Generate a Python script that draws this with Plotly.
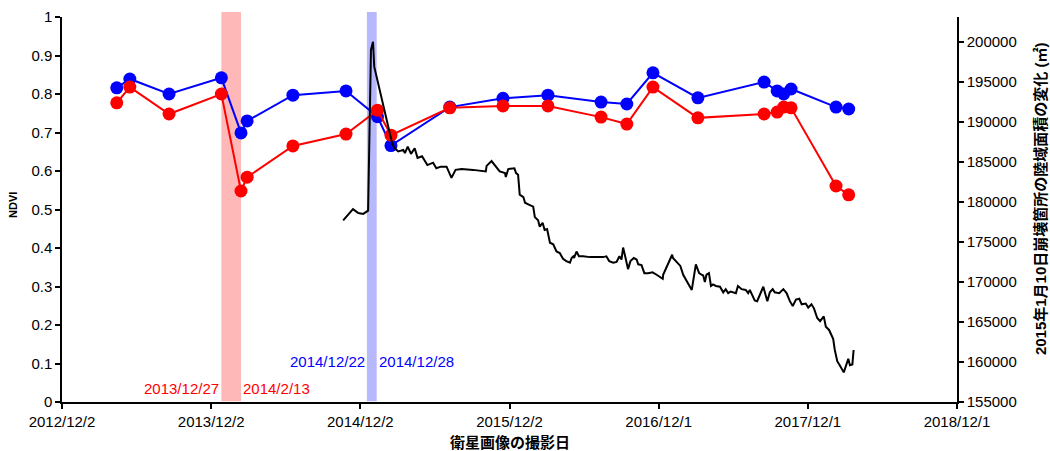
import plotly.graph_objects as go
from plotly.subplots import make_subplots

# ---------------- data ----------------
ndvi_dates = ["2013-04-15", "2013-05-17", "2013-08-21", "2013-12-27", "2014-02-13", "2014-02-28",
              "2014-06-20", "2014-10-28", "2015-01-13", "2015-02-15", "2015-07-09", "2015-11-16",
              "2016-03-05", "2016-07-13", "2016-09-14", "2016-11-17", "2017-03-07", "2017-08-16",
              "2017-09-17", "2017-10-03", "2017-10-21", "2018-02-08", "2018-03-11"]
ndvi_blue = [0.816, 0.839, 0.800, 0.842, 0.699, 0.730, 0.797, 0.808, 0.741, 0.666, 0.766, 0.789,
             0.797, 0.779, 0.774, 0.855, 0.790, 0.831, 0.808, 0.800, 0.813, 0.766, 0.761]
ndvi_red = [0.777, 0.818, 0.748, 0.800, 0.548, 0.584, 0.665, 0.696, 0.758, 0.693, 0.764, 0.769,
            0.769, 0.740, 0.722, 0.818, 0.738, 0.748, 0.753, 0.766, 0.764, 0.561, 0.538]

area_dates = [
    "2014-10-21", "2014-11-14", "2014-11-27", "2014-12-09", "2014-12-21", "2014-12-28", "2015-01-02", "2015-01-05",
    "2015-02-18", "2015-02-24", "2015-03-05", "2015-03-17", "2015-03-21", "2015-03-28", "2015-04-05", "2015-04-14",
    "2015-04-21", "2015-05-02", "2015-05-15", "2015-05-29", "2015-06-06", "2015-06-17", "2015-07-01", "2015-07-13",
    "2015-07-23", "2015-08-07", "2015-09-04", "2015-10-05", "2015-10-07", "2015-10-19", "2015-11-08", "2015-11-21",
    "2015-11-23", "2015-11-29", "2015-12-14", "2015-12-18", "2015-12-23", "2015-12-27",
    "2016-01-05", "2016-01-09", "2016-01-17", "2016-01-29", "2016-02-02", "2016-02-10", "2016-02-14", "2016-02-21",
    "2016-02-26", "2016-03-03", "2016-03-10", "2016-03-18", "2016-03-26", "2016-04-03", "2016-04-11", "2016-04-19",
    "2016-04-28", "2016-05-02", "2016-05-06", "2016-05-08", "2016-05-14", "2016-05-20", "2016-05-30", "2016-06-16",
    "2016-07-18", "2016-07-26", "2016-08-02", "2016-08-12", "2016-08-20", "2016-08-27", "2016-09-01", "2016-09-05",
    "2016-09-11", "2016-09-17", "2016-09-23", "2016-10-01", "2016-10-08", "2016-10-12", "2016-10-20", "2016-10-27",
    "2016-11-05", "2016-11-16", "2016-11-26", "2016-12-11", "2016-12-12",
    "2017-01-03", "2017-01-05", "2017-01-23", "2017-01-30", "2017-02-20", "2017-03-02", "2017-03-10", "2017-03-16",
    "2017-03-20", "2017-03-24", "2017-03-28", "2017-04-03", "2017-04-08", "2017-04-13", "2017-04-20", "2017-04-30",
    "2017-05-08", "2017-05-14", "2017-05-20", "2017-05-26", "2017-06-01", "2017-06-08", "2017-06-13", "2017-06-22",
    "2017-07-02", "2017-07-08", "2017-07-12", "2017-07-24", "2017-07-30", "2017-08-07", "2017-08-14", "2017-08-24",
    "2017-08-30", "2017-09-06", "2017-09-11", "2017-09-22", "2017-10-02", "2017-10-10", "2017-10-18", "2017-10-25",
    "2017-11-02", "2017-11-10", "2017-11-16", "2017-11-26", "2017-12-02", "2017-12-10", "2017-12-16", "2017-12-24",
    "2017-12-31",
    "2018-01-09", "2018-01-14", "2018-01-22", "2018-02-01", "2018-02-05", "2018-02-11", "2018-02-17", "2018-02-27",
    "2018-03-10", "2018-03-14", "2018-03-20", "2018-03-23"]
area_values = [
    177700, 179100, 178600, 178500, 178900, 199000, 200000, 196900,
    187300, 186700, 186300, 186500, 186100, 186900, 186000, 186700,
    185500, 185700, 184600, 184900, 184200, 184400, 184400, 183000,
    184000, 184100, 184000, 183800, 184500, 185100, 183800, 183600,
    183100, 184100, 184200, 183600, 183400, 180900,
    180600, 179900, 179700, 179400, 178100, 177700, 176900, 177400,
    176500, 176600, 174900, 174700, 173800, 173600, 172900, 172600,
    172400, 173000, 173200, 173000, 173800, 173200, 173200, 173100,
    173100, 173200, 172600, 172400, 172500, 173200, 172800, 174300,
    173000, 171600, 172600, 173000, 172800, 172200, 172100, 171100,
    171100, 171200, 170900, 170400, 170900,
    173400, 173000, 172000, 170900, 169000, 172200, 171100, 170900,
    170800, 170000, 170900, 171100, 169500, 169700, 169500, 169400,
    168700, 169100, 168600, 168800, 168700, 168600, 169500, 169100,
    169000, 168600, 169000, 167700, 167600, 168600, 169400, 167600,
    168700, 169100, 168700, 168600, 169100, 168600, 167600, 167000,
    167800, 167900, 167200, 167300, 166800, 167200, 166700, 165500,
    165100,
    165700, 164400, 164000, 162900, 161500, 160100, 159600, 158700,
    160400, 159600, 159700, 161500]

x_tick_dates = ["2012-12-02", "2013-12-02", "2014-12-02", "2015-12-02", "2016-12-01", "2017-12-01", "2018-12-01"]
x_tick_text = ["2012/12/2", "2013/12/2", "2014/12/2", "2015/12/2", "2016/12/1", "2017/12/1", "2018/12/1"]
y1_ticks = [0, 0.1, 0.2, 0.3, 0.4, 0.5, 0.6, 0.7, 0.8, 0.9, 1.0]
y1_text = ["0", "0.1", "0.2", "0.3", "0.4", "0.5", "0.6", "0.7", "0.8", "0.9", "1"]
y2_ticks = [155000, 160000, 165000, 170000, 175000, 180000, 185000, 190000, 195000, 200000]
y2_text = [str(v) for v in y2_ticks]

red_band = ["2013-12-27", "2014-02-13"]
blue_band = ["2014-12-18", "2015-01-11"]

x_title = "衛星画像の撮影日"
y1_title = "NDVI"
y2_title = "2015年1月10日崩壊箇所の陸域面積の変化 (㎡)"

FONT = "Liberation Sans, Arial, Noto Sans CJK JP"

fig = make_subplots(specs=[[{"secondary_y": True}]])

fig.add_trace(go.Scatter(x=ndvi_dates, y=ndvi_blue, mode="lines+markers", name="NDVI (青)",
                         line=dict(color="#0000FF", width=2),
                         marker=dict(color="#0000FF", size=13)), secondary_y=False)
fig.add_trace(go.Scatter(x=ndvi_dates, y=ndvi_red, mode="lines+markers", name="NDVI (赤)",
                         line=dict(color="#FF0000", width=2),
                         marker=dict(color="#FF0000", size=13)), secondary_y=False)
fig.add_trace(go.Scatter(x=area_dates, y=area_values, mode="lines", name="陸域面積",
                         line=dict(color="#000000", width=2)), secondary_y=True)

# bands
fig.add_shape(type="rect", xref="x", yref="paper", x0=red_band[0], x1=red_band[1], y0=0.002, y1=1.013,
              fillcolor="#FFB8B8", line=dict(width=0), layer="below")
fig.add_shape(type="rect", xref="x", yref="paper", x0=blue_band[0], x1=blue_band[1], y0=0.002, y1=1.013,
              fillcolor="#B8B8FF", line=dict(width=0), layer="below")

ann_font = dict(family=FONT, size=15)
fig.add_annotation(x=red_band[0], y=0.036, xref="x", yref="y", text="2013/12/27", showarrow=False,
                   xanchor="right", font=dict(color="#FF0000", **ann_font))
fig.add_annotation(x=red_band[1], y=0.036, xref="x", yref="y", text="2014/2/13", showarrow=False,
                   xanchor="left", font=dict(color="#FF0000", **ann_font))
fig.add_annotation(x=blue_band[0], y=0.106, xref="x", yref="y", text="2014/12/22", showarrow=False,
                   xanchor="right", font=dict(color="#0000FF", **ann_font))
fig.add_annotation(x=blue_band[1], y=0.106, xref="x", yref="y", text="2014/12/28", showarrow=False,
                   xanchor="left", font=dict(color="#0000FF", **ann_font))

# axis titles as annotations (precise placement)
fig.add_annotation(x=0.5, y=0, xref="paper", yref="paper", yshift=-40, text="<b>" + x_title + "</b>",
                   showarrow=False, xanchor="center", yanchor="middle",
                   font=dict(family=FONT, size=15, color="#000000"))
fig.add_annotation(x=0, y=0.512, xref="paper", yref="paper", xshift=-49, text="<b>" + y1_title + "</b>",
                   showarrow=False, textangle=-90, xanchor="center", yanchor="middle",
                   font=dict(family=FONT, size=11, color="#000000"))
fig.add_annotation(x=1, y=0.527, xref="paper", yref="paper", xshift=83, text="<b>" + y2_title + "</b>",
                   showarrow=False, textangle=-90, xanchor="center", yanchor="middle",
                   font=dict(family=FONT, size=15, color="#000000"))

axis_common = dict(showgrid=False, zeroline=False, showline=True, linecolor="#000000", linewidth=1.5,
                   ticks="outside", ticklen=5, tickwidth=1.5, tickcolor="#000000", automargin=False,
                   tickfont=dict(family=FONT, size=15, color="#000000"))

fig.update_xaxes(type="date", range=["2012-12-02", "2018-12-01"], tickmode="array", domain=[0, 1],
                 tickvals=x_tick_dates, ticktext=x_tick_text, **axis_common)
fig.update_yaxes(range=[0, 1], tickmode="array", tickvals=y1_ticks, ticktext=y1_text,
                 secondary_y=False, **axis_common)
fig.update_yaxes(range=[155000, 203100], tickmode="array", tickvals=y2_ticks, ticktext=y2_text,
                 secondary_y=True, **axis_common)

fig.update_layout(width=1050, height=451, margin=dict(l=62, r=93, t=17, b=49, autoexpand=False),
                  paper_bgcolor="#FFFFFF", plot_bgcolor="#FFFFFF", showlegend=False,
                  font=dict(family=FONT, color="#000000"))

# remove the page's default body margin so the 1050x451 figure fills the window exactly
fig.write_html("out.html", config={"displayModeBar": False},
               post_script="document.body.style.margin='0';document.documentElement.style.overflow='hidden';")
